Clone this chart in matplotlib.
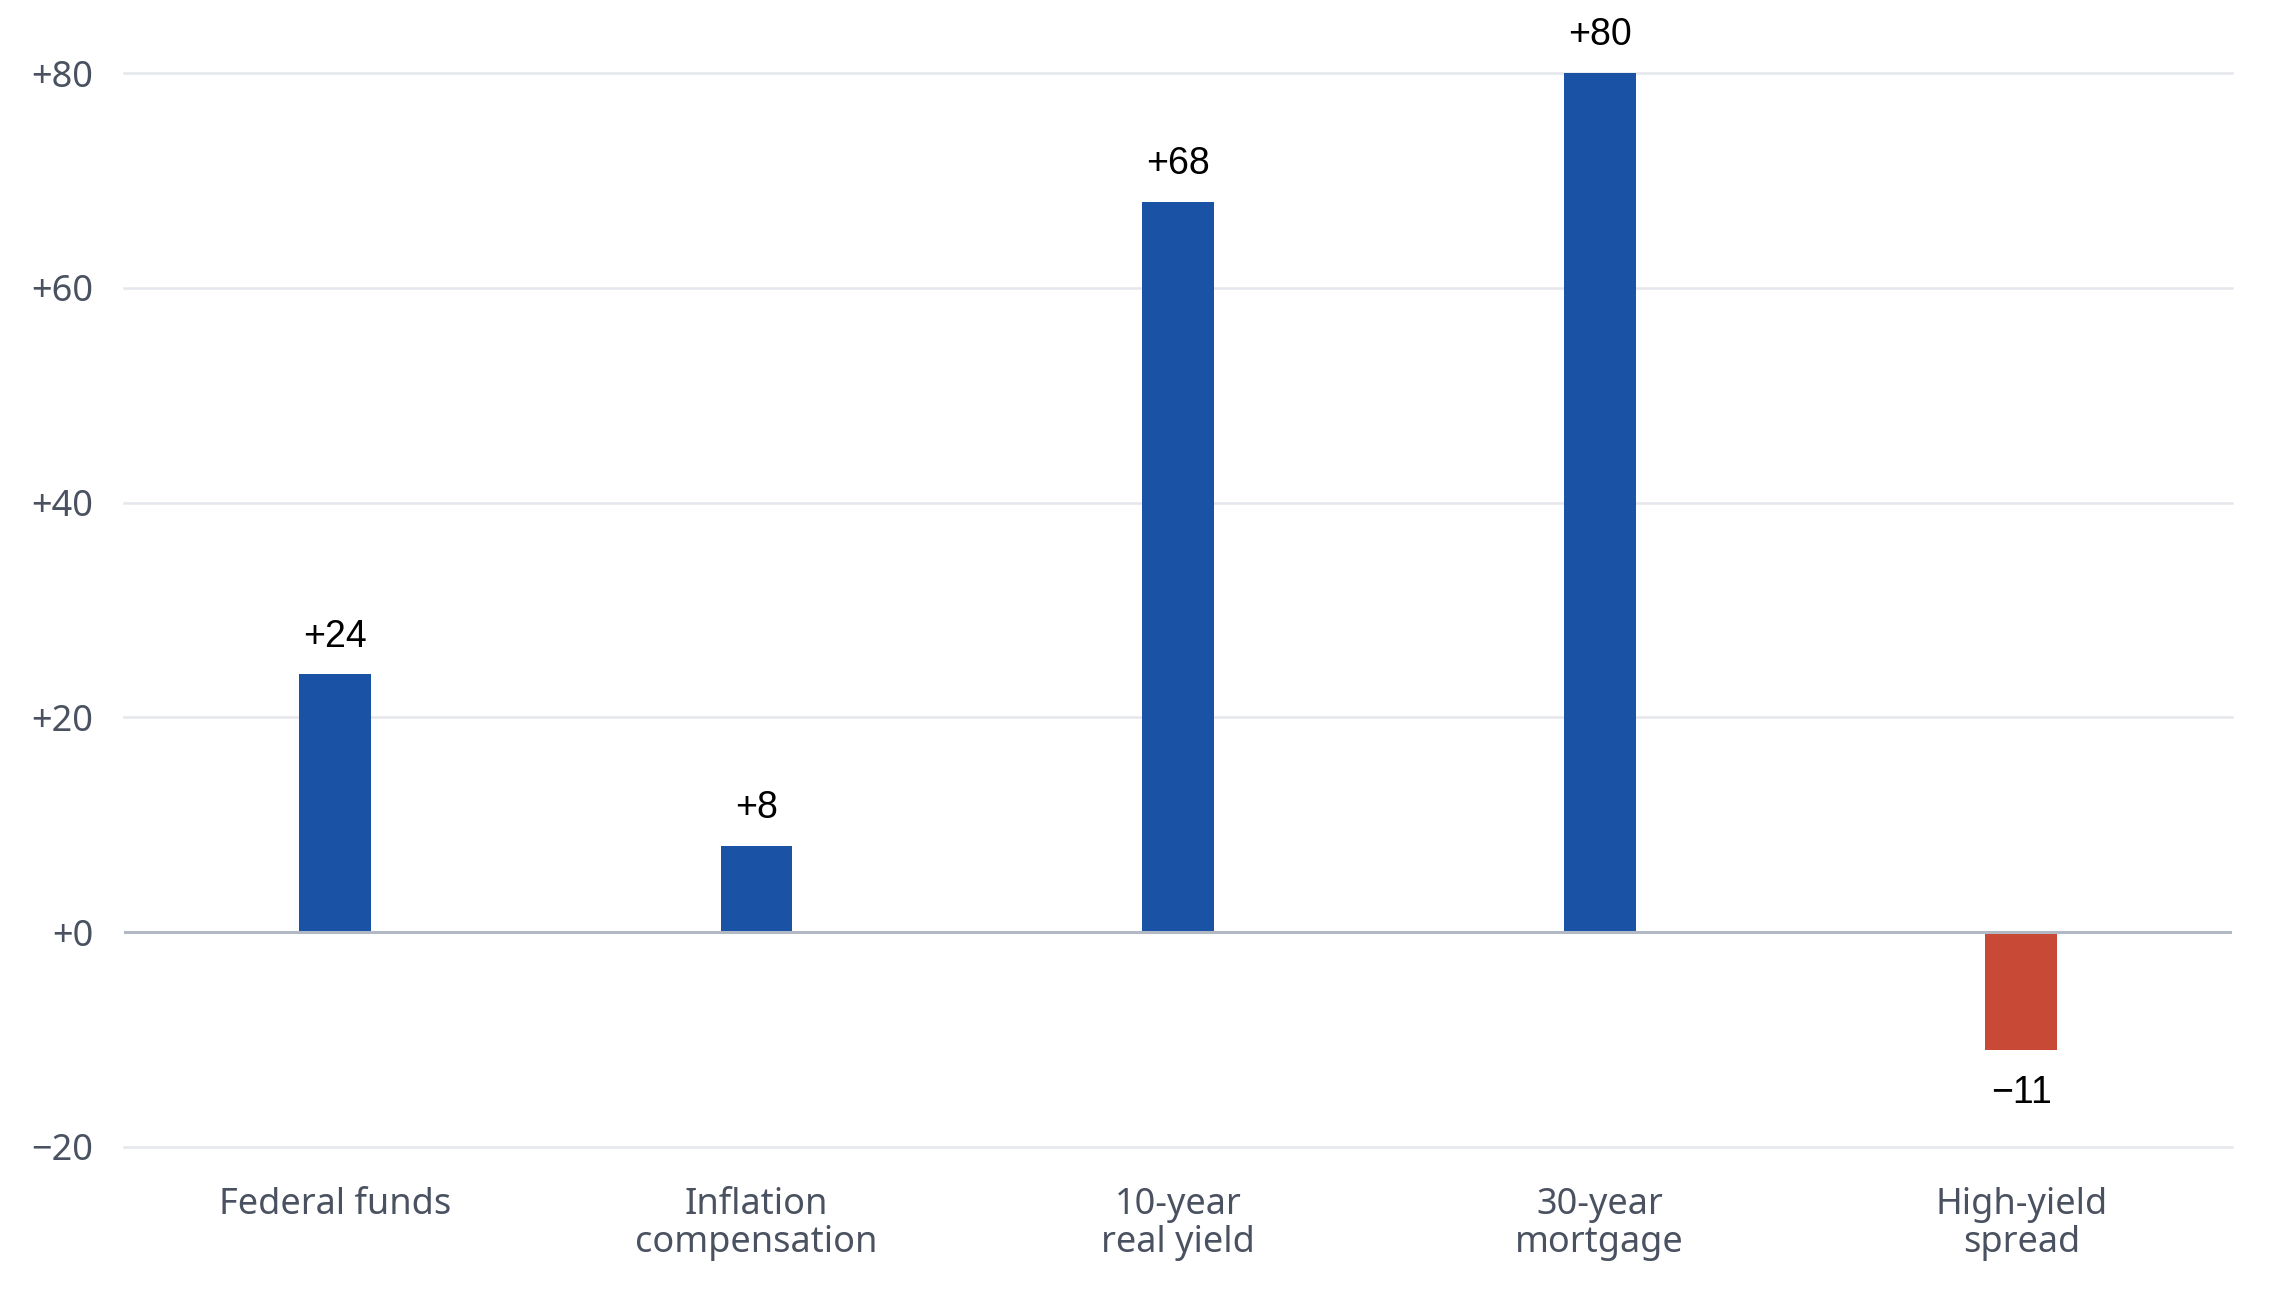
import matplotlib
matplotlib.use("Agg")
import matplotlib.pyplot as plt

# change in basis points
CATEGORIES = ["Federal funds", "Inflation\ncompensation", "10-year\nreal yield",
              "30-year\nmortgage", "High-yield\nspread"]
VALUES = [24, 8, 68, 80, -11]
Y_TICKS = [-20, 0, 20, 40, 60, 80]

BLUE = "#1a52a5"
RED = "#c84a36"
GRID = "#e4e7eb"
ZERO = "#b3b9c4"
TICK_COLOR = "#4a5160"

fig = plt.figure(figsize=(22.8, 12.9), dpi=100)
ax = fig.add_axes([0.0544, 0.1109, 0.9246, 0.8325])

x = list(range(len(CATEGORIES)))
colors = [BLUE if v >= 0 else RED for v in VALUES]
ax.bar(x, VALUES, width=0.17, color=colors, zorder=3)

for t in Y_TICKS:
    if t == 0:
        ax.axhline(t, color=ZERO, linewidth=2.2, zorder=4)
    else:
        ax.axhline(t, color=GRID, linewidth=1.8, zorder=1, clip_on=False)

for xi, v in zip(x, VALUES):
    label = f"+{v}" if v >= 0 else f"\u2212{abs(v)}"
    if v >= 0:
        ax.annotate(label, (xi, v), xytext=(0, 20), textcoords="offset points",
                    ha="center", va="baseline", fontsize=27,
                    family="Liberation Sans", color="black", annotation_clip=False)
    else:
        ax.annotate(label, (xi, v), xytext=(0, -18), textcoords="offset points",
                    ha="center", va="top", fontsize=27,
                    family="Liberation Sans", color="black", annotation_clip=False)

ax.set_xlim(-0.5, len(CATEGORIES) - 0.5)
ax.set_ylim(-20, 80)
ax.set_yticks(Y_TICKS)
ax.set_yticklabels([f"+{t}" if t >= 0 else f"\u2212{abs(t)}" for t in Y_TICKS])
ax.set_xticks(x)
ax.set_xticklabels(CATEGORIES, linespacing=1.05)

for lab in ax.get_xticklabels() + ax.get_yticklabels():
    lab.set_family("Noto Sans")
    lab.set_fontsize(26)
    lab.set_color(TICK_COLOR)

ax.tick_params(axis="x", length=0, pad=29)
ax.tick_params(axis="y", length=0, pad=22)
for s in ax.spines.values():
    s.set_visible(False)

fig.savefig("out.png", dpi=100, facecolor="white")
